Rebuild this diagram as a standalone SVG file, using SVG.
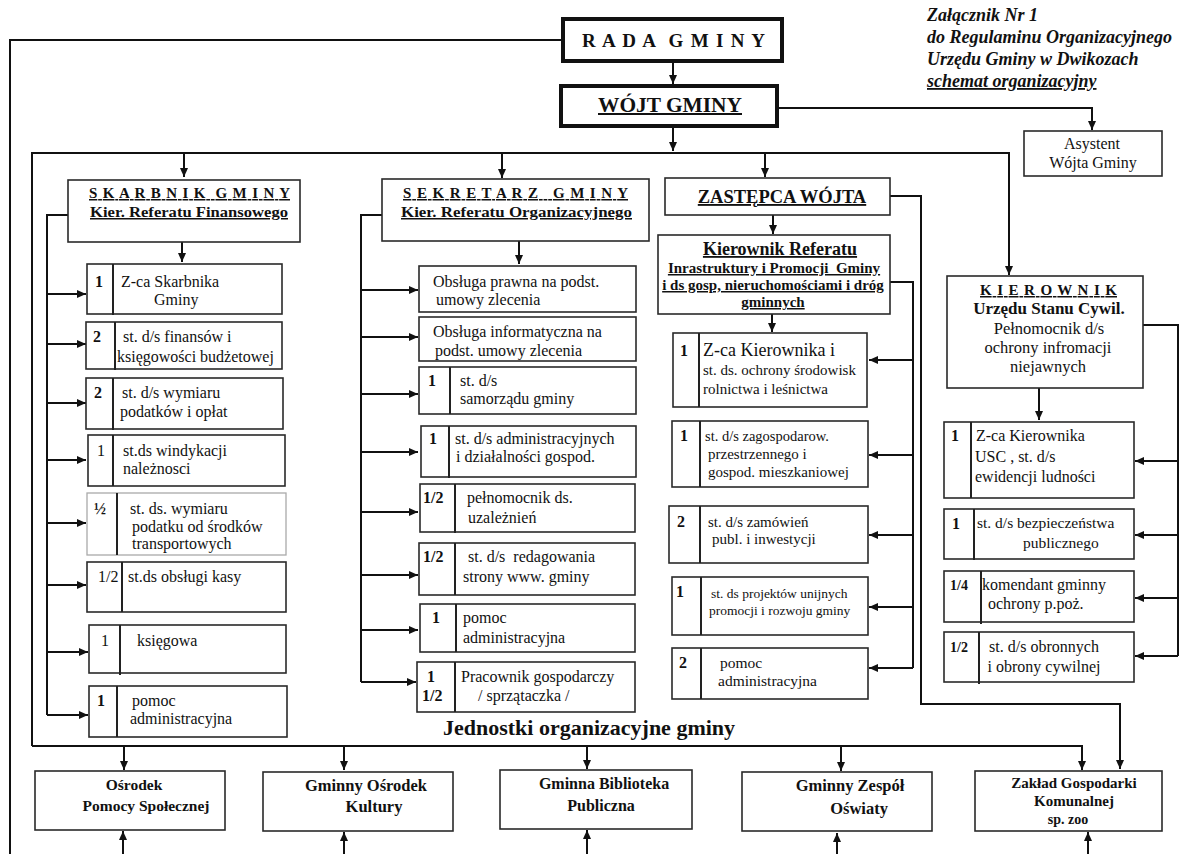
<svg xmlns="http://www.w3.org/2000/svg" width="1189" height="854" viewBox="0 0 1189 854">
<style>
.bg{fill:#fff}
.box{fill:#fff;stroke:#2a2a2a;stroke-width:1.6}
.lbox{fill:#fff;stroke:#aaa;stroke-width:1.3}
.thick{fill:#fff;stroke:#111;stroke-width:4}
.dv{stroke:#222;stroke-width:2}
.conn{fill:none;stroke:#111;stroke-width:2}
.t{font-family:"Liberation Serif","Times New Roman",serif;font-size:16px;fill:#111}
.m{font-size:15px}
.s{font-size:14px}
.b{font-weight:bold}
.c{text-anchor:middle}
.u{text-decoration:underline}
.i{font-style:italic}
</style>
<defs>
<marker id="ah" markerWidth="10" markerHeight="10" refX="9" refY="5" orient="auto" markerUnits="userSpaceOnUse">
<path d="M0,1 L9,5 L0,9 z" fill="#111"/>
</marker>
</defs>
<rect class="bg" width="1189" height="854"/>

<g id="connectors">
<path class="conn" d="M563,40 H10 V854"/>
<path class="conn" d="M673,62 V84" marker-end="url(#ah)"/>
<path class="conn" d="M673,126 V151" marker-end="url(#ah)"/>
<path class="conn" d="M777,108 H1092 V130" marker-end="url(#ah)"/>
<path class="conn" d="M32,746 V153 H1009 V275" marker-end="url(#ah)"/>
<path class="conn" d="M184,153 V177" marker-end="url(#ah)"/>
<path class="conn" d="M502,153 V178" marker-end="url(#ah)"/>
<path class="conn" d="M765,153 V177" marker-end="url(#ah)"/>
<path class="conn" d="M68,215 H47 V715"/>
<path class="conn" d="M182,242 V262" marker-end="url(#ah)"/>
<path class="conn" d="M47,294 H86" marker-end="url(#ah)"/>
<path class="conn" d="M47,344 H86" marker-end="url(#ah)"/>
<path class="conn" d="M47,403 H86" marker-end="url(#ah)"/>
<path class="conn" d="M47,460 H86" marker-end="url(#ah)"/>
<path class="conn" d="M47,523 H86" marker-end="url(#ah)"/>
<path class="conn" d="M47,585 H86" marker-end="url(#ah)"/>
<path class="conn" d="M47,652 H88" marker-end="url(#ah)"/>
<path class="conn" d="M47,715 H88" marker-end="url(#ah)"/>
<path class="conn" d="M382,215 H361 V682"/>
<path class="conn" d="M519,241 V264" marker-end="url(#ah)"/>
<path class="conn" d="M361,290 H418" marker-end="url(#ah)"/>
<path class="conn" d="M361,337 H418" marker-end="url(#ah)"/>
<path class="conn" d="M361,394 H418" marker-end="url(#ah)"/>
<path class="conn" d="M361,452 H418" marker-end="url(#ah)"/>
<path class="conn" d="M361,512 H418" marker-end="url(#ah)"/>
<path class="conn" d="M361,575 H418" marker-end="url(#ah)"/>
<path class="conn" d="M361,630 H418" marker-end="url(#ah)"/>
<path class="conn" d="M361,682 H416" marker-end="url(#ah)"/>
<path class="conn" d="M890,196 H921 V704 H1120 V769" marker-end="url(#ah)"/>
<path class="conn" d="M773,215 V234" marker-end="url(#ah)"/>
<path class="conn" d="M890,282 H913 V668"/>
<path class="conn" d="M772,314 V332" marker-end="url(#ah)"/>
<path class="conn" d="M913,360 H869" marker-end="url(#ah)"/>
<path class="conn" d="M913,455 H869" marker-end="url(#ah)"/>
<path class="conn" d="M913,535 H869" marker-end="url(#ah)"/>
<path class="conn" d="M913,607 H869" marker-end="url(#ah)"/>
<path class="conn" d="M913,668 H869" marker-end="url(#ah)"/>
<path class="conn" d="M1143,325 H1178 V656"/>
<path class="conn" d="M1039,388 V420" marker-end="url(#ah)"/>
<path class="conn" d="M1178,461 H1135" marker-end="url(#ah)"/>
<path class="conn" d="M1178,535 H1135" marker-end="url(#ah)"/>
<path class="conn" d="M1178,598 H1135" marker-end="url(#ah)"/>
<path class="conn" d="M1178,656 H1135" marker-end="url(#ah)"/>
<path class="conn" d="M32,746 H1082 V770" marker-end="url(#ah)"/>
<path class="conn" d="M124,746 V770" marker-end="url(#ah)"/>
<path class="conn" d="M344,746 V770" marker-end="url(#ah)"/>
<path class="conn" d="M587,746 V769" marker-end="url(#ah)"/>
<path class="conn" d="M841,746 V771" marker-end="url(#ah)"/>
<path class="conn" d="M123,854 V831" marker-end="url(#ah)"/>
<path class="conn" d="M344,854 V832" marker-end="url(#ah)"/>
<path class="conn" d="M587,854 V830" marker-end="url(#ah)"/>
<path class="conn" d="M837,854 V833" marker-end="url(#ah)"/>
<path class="conn" d="M1088,854 V832" marker-end="url(#ah)"/>
</g>

<g id="zalacznik">
<text class="t b i" x="927" y="21" style="font-size:18px">Załącznik Nr 1</text>
<text class="t b i" x="927" y="43" style="font-size:18px">do Regulaminu Organizacyjnego</text>
<text class="t b i" x="927" y="65" style="font-size:18px">Urzędu Gminy w Dwikozach</text>
<text class="t b i u" x="927" y="87" style="font-size:18px">schemat organizacyjny</text>
</g>

<g id="rada">
<rect class="thick" x="563" y="19" width="219" height="42"/>
<text class="t b" x="582" y="47" style="font-size:19px" xml:space="preserve" textLength="183" lengthAdjust="spacing">R A D A  G M I N Y</text>
</g>
<g id="wojt">
<rect class="thick" x="561" y="86" width="216" height="40"/>
<text class="t b u" x="598" y="112" style="font-size:20px" textLength="144" lengthAdjust="spacingAndGlyphs">WÓJT GMINY</text>
</g>
<g id="asystent">
<rect class="box" x="1024" y="131" width="138" height="45"/>
<text class="t c" x="1092" y="149">Asystent</text>
<text class="t c" x="1093" y="168">Wójta Gminy</text>
</g>

<g id="skarbnik">
<rect class="box" x="68" y="180" width="232" height="62"/>
<text class="t b u" x="89" y="198" style="font-size:15px" xml:space="preserve" textLength="201" lengthAdjust="spacing">S K A R B N I K  G M I N Y</text>
<text class="t b u" x="90" y="217" style="font-size:15px" textLength="198" lengthAdjust="spacingAndGlyphs">Kier. Referatu Finansowego</text>
</g>
<g id="sk1">
<rect class="box" x="87" y="264" width="195" height="50"/>
<line class="dv" x1="113" y1="264" x2="113" y2="315"/>
<text class="t b" x="95" y="287">1</text>
<text class="t" x="121" y="287">Z-ca Skarbnika</text>
<text class="t" x="154" y="305">Gminy</text>
</g>
<g id="sk2">
<rect class="box" x="86" y="322" width="196" height="47"/>
<line class="dv" x1="115" y1="322" x2="115" y2="370"/>
<text class="t b" x="93" y="342">2</text>
<text class="t" x="123" y="342">st. d/s finansów i</text>
<text class="t" x="117" y="362">księgowości budżetowej</text>
</g>
<g id="sk3">
<rect class="box" x="86" y="378" width="197" height="51"/>
<line class="dv" x1="113" y1="378" x2="113" y2="430"/>
<text class="t b" x="94" y="398">2</text>
<text class="t" x="122" y="398">st. d/s wymiaru</text>
<text class="t" x="120" y="417">podatków i opłat</text>
</g>
<g id="sk4">
<rect class="box" x="88" y="435" width="197" height="51"/>
<line class="dv" x1="113" y1="435" x2="113" y2="486"/>
<text class="t" x="97" y="456">1</text>
<text class="t" x="123" y="456">st.ds windykacji</text>
<text class="t" x="123" y="474">należnosci</text>
</g>
<g id="sk5">
<rect class="lbox" x="87" y="493" width="199" height="62"/>
<line class="dv" x1="117" y1="493" x2="117" y2="555"/>
<text class="t b" x="94" y="514">½</text>
<text class="t" x="130" y="514">st. ds. wymiaru</text>
<text class="t" x="132" y="532">podatku od środków</text>
<text class="t" x="132" y="549">transportowych</text>
</g>
<g id="sk6">
<rect class="box" x="87" y="562" width="199" height="50"/>
<line class="dv" x1="122" y1="562" x2="122" y2="612"/>
<text class="t" x="98" y="582">1/2</text>
<text class="t" x="128" y="582">st.ds obsługi kasy</text>
</g>
<g id="sk7">
<rect class="box" x="89" y="625" width="197" height="48"/>
<line class="dv" x1="120" y1="625" x2="120" y2="675"/>
<text class="t" x="101" y="646">1</text>
<text class="t" x="137" y="646">księgowa</text>
</g>
<g id="sk8">
<rect class="box" x="89" y="686" width="198" height="51"/>
<line class="dv" x1="117" y1="686" x2="117" y2="737"/>
<text class="t b" x="97" y="706">1</text>
<text class="t" x="132" y="706">pomoc</text>
<text class="t" x="130" y="724">administracyjna</text>
</g>

<g id="sekretarz">
<rect class="box" x="382" y="179" width="267" height="62"/>
<text class="t b u" x="403" y="198" style="font-size:15px" xml:space="preserve" textLength="225" lengthAdjust="spacing">S E K R E T A R Z   G M I N Y</text>
<text class="t b u" x="401" y="217" style="font-size:15px" textLength="231" lengthAdjust="spacingAndGlyphs">Kier. Referatu Organizacyjnego</text>
</g>
<g id="se1">
<rect class="box" x="419" y="266" width="217" height="46"/>
<text class="t" x="433" y="287">Obsługa prawna na podst.</text>
<text class="t" x="436" y="305">umowy zlecenia</text>
</g>
<g id="se2">
<rect class="box" x="419" y="317" width="217" height="44"/>
<text class="t" x="433" y="337">Obsługa informatyczna na</text>
<text class="t" x="435" y="356">podst. umowy zlecenia</text>
</g>
<g id="se3">
<rect class="box" x="419" y="367" width="217" height="47"/>
<line class="dv" x1="450" y1="367" x2="450" y2="414"/>
<text class="t b" x="428" y="386">1</text>
<text class="t" x="460" y="386">st. d/s</text>
<text class="t" x="460" y="404">samorządu gminy</text>
</g>
<g id="se4">
<rect class="box" x="421" y="426" width="215" height="51"/>
<line class="dv" x1="449" y1="426" x2="449" y2="478"/>
<text class="t b" x="429" y="444">1</text>
<text class="t" x="455" y="444">st. d/s administracyjnych</text>
<text class="t" x="456" y="462">i działalności gospod.</text>
</g>
<g id="se5">
<rect class="box" x="420" y="484" width="215" height="48"/>
<line class="dv" x1="455" y1="484" x2="455" y2="533"/>
<text class="t b" x="423" y="503">1/2</text>
<text class="t" x="467" y="503">pełnomocnik ds.</text>
<text class="t" x="468" y="523">uzależnień</text>
</g>
<g id="se6">
<rect class="box" x="419" y="543" width="216" height="52"/>
<line class="dv" x1="455" y1="543" x2="455" y2="595"/>
<text class="t b" x="423" y="562">1/2</text>
<text class="t" x="468" y="562" xml:space="preserve">st. d/s  redagowania</text>
<text class="t" x="463" y="582">strony www. gminy</text>
</g>
<g id="se7">
<rect class="box" x="420" y="604" width="215" height="48"/>
<line class="dv" x1="456" y1="604" x2="456" y2="652"/>
<text class="t b" x="432" y="623">1</text>
<text class="t" x="463" y="623">pomoc</text>
<text class="t" x="463" y="643">administracyjna</text>
</g>
<g id="se8">
<rect class="box" x="417" y="662" width="218" height="50"/>
<line class="dv" x1="455" y1="662" x2="455" y2="712"/>
<text class="t b" x="427" y="682">1</text>
<text class="t b" x="422" y="701">1/2</text>
<text class="t" x="461" y="682">Pracownik gospodarczy</text>
<text class="t" x="478" y="701">/ sprzątaczka /</text>
</g>

<g id="zastepca">
<rect class="box" x="665" y="178" width="225" height="37"/>
<text class="t b u c" x="782" y="203" style="font-size:18.5px">ZASTĘPCA WÓJTA</text>
</g>
<g id="kier-ref">
<rect class="box" x="658" y="235" width="232" height="79"/>
<text class="t b u c" x="780" y="255" style="font-size:18px">Kierownik Referatu</text>
<text class="t b u c" x="774" y="273" style="font-size:15px" xml:space="preserve">Inrastruktury i Promocji  Gminy</text>
<text class="t b u c" x="773" y="290" style="font-size:15px">i ds gosp, nieruchomościami i dróg</text>
<text class="t b u c" x="773" y="307" style="font-size:15px">gminnych</text>
</g>
<g id="za1">
<rect class="box" x="673" y="333" width="194" height="74"/>
<line class="dv" x1="699" y1="333" x2="699" y2="407"/>
<text class="t b" x="680" y="356">1</text>
<text class="t" x="703" y="356" style="font-size:18px">Z-ca Kierownika i</text>
<text class="t m" x="703" y="375">st. ds. ochrony środowisk</text>
<text class="t m" x="703" y="394">rolnictwa i leśnictwa</text>
</g>
<g id="za2">
<rect class="box" x="672" y="421" width="196" height="66"/>
<line class="dv" x1="700" y1="421" x2="700" y2="487"/>
<text class="t b" x="680" y="441">1</text>
<text class="t" x="705" y="441" style="font-size:14.5px">st. d/s zagospodarow.</text>
<text class="t m" x="708" y="459">przestrzennego i</text>
<text class="t m" x="708" y="477">gospod. mieszkaniowej</text>
</g>
<g id="za3">
<rect class="box" x="669" y="506" width="199" height="57"/>
<line class="dv" x1="700" y1="506" x2="700" y2="563"/>
<text class="t b" x="677" y="527">2</text>
<text class="t m" x="708" y="527">st. d/s zamówień</text>
<text class="t m" x="712" y="544">publ. i inwestycji</text>
</g>
<g id="za4">
<rect class="box" x="672" y="577" width="196" height="58"/>
<line class="dv" x1="701" y1="577" x2="701" y2="635"/>
<text class="t b" x="676" y="597">1</text>
<text class="t" x="711" y="598" style="font-size:13.5px">st. ds projektów unijnych</text>
<text class="t" x="709" y="615" style="font-size:13.5px">promocji i rozwoju gminy</text>
</g>
<g id="za5">
<rect class="box" x="672" y="648" width="196" height="51"/>
<line class="dv" x1="701" y1="648" x2="701" y2="699"/>
<text class="t b" x="679" y="668">2</text>
<text class="t" x="720" y="668" style="font-size:15.5px">pomoc</text>
<text class="t" x="718" y="686" style="font-size:15.5px">administracyjna</text>
</g>

<g id="usc">
<rect class="box" x="947" y="276" width="196" height="112"/>
<text class="t b u" x="980" y="295" style="font-size:15px" textLength="137" lengthAdjust="spacing">K I E R O W N I K</text>
<text class="t b c" x="1049" y="314" style="font-size:17px">Urzędu Stanu Cywil.</text>
<text class="t c" x="1049" y="334" style="font-size:16.5px">Pełnomocnik d/s</text>
<text class="t c" x="1048" y="353" style="font-size:16.5px">ochrony infromacji</text>
<text class="t c" x="1048" y="372" style="font-size:16.5px">niejawnych</text>
</g>
<g id="us1">
<rect class="box" x="944" y="422" width="190" height="76"/>
<line class="dv" x1="971" y1="422" x2="971" y2="498"/>
<text class="t b" x="951" y="441">1</text>
<text class="t" x="976" y="441">Z-ca Kierownika</text>
<text class="t" x="975" y="462">USC , st. d/s</text>
<text class="t" x="975" y="482">ewidencji ludności</text>
</g>
<g id="us2">
<rect class="box" x="944" y="509" width="190" height="50"/>
<line class="dv" x1="974" y1="509" x2="974" y2="560"/>
<text class="t b" x="952" y="529">1</text>
<text class="t" x="977" y="528" style="font-size:15.5px">st. d/s bezpieczeństwa</text>
<text class="t" x="1023" y="548" style="font-size:15.5px">publicznego</text>
</g>
<g id="us3">
<rect class="box" x="944" y="571" width="190" height="51"/>
<line class="dv" x1="981" y1="571" x2="981" y2="624"/>
<text class="t b s" x="950" y="590">1/4</text>
<text class="t" x="982" y="590">komendant gminny</text>
<text class="t" x="988" y="609">ochrony p.poż.</text>
</g>
<g id="us4">
<rect class="box" x="944" y="632" width="190" height="50"/>
<line class="dv" x1="979" y1="632" x2="979" y2="684"/>
<text class="t b s" x="950" y="652">1/2</text>
<text class="t c" x="1044" y="652">st. d/s obronnych</text>
<text class="t c" x="1044" y="672">i obrony cywilnej</text>
</g>

<text id="jednostki" class="t b c" x="589" y="735" style="font-size:22px">Jednostki organizacyjne gminy</text>

<g id="ops">
<rect class="box" x="35" y="771" width="190" height="59"/>
<text class="t b c" x="134" y="790" style="font-size:15.5px">Ośrodek</text>
<text class="t b c" x="146" y="811" style="font-size:15.5px">Pomocy Społecznej</text>
</g>
<g id="gok">
<rect class="box" x="263" y="772" width="190" height="59"/>
<text class="t b c" x="366" y="791" style="font-size:16.5px">Gminny Ośrodek</text>
<text class="t b c" x="374" y="812" style="font-size:16.5px">Kultury</text>
</g>
<g id="gbp">
<rect class="box" x="500" y="770" width="192" height="59"/>
<text class="t b c" x="604" y="789">Gminna Biblioteka</text>
<text class="t b c" x="601" y="811">Publiczna</text>
</g>
<g id="gzo">
<rect class="box" x="742" y="772" width="190" height="59"/>
<text class="t b c" x="850" y="791" style="font-size:16.5px">Gminny Zespół</text>
<text class="t b c" x="859" y="814" style="font-size:16.5px">Oświaty</text>
</g>
<g id="zgk">
<rect class="box" x="975" y="771" width="187" height="60"/>
<text class="t b c" x="1074" y="788" style="font-size:15px">Zakład Gospodarki</text>
<text class="t b c" x="1074" y="806" style="font-size:15px">Komunalnej</text>
<text class="t b c s" x="1068" y="824">sp. zoo</text>
</g>
</svg>
